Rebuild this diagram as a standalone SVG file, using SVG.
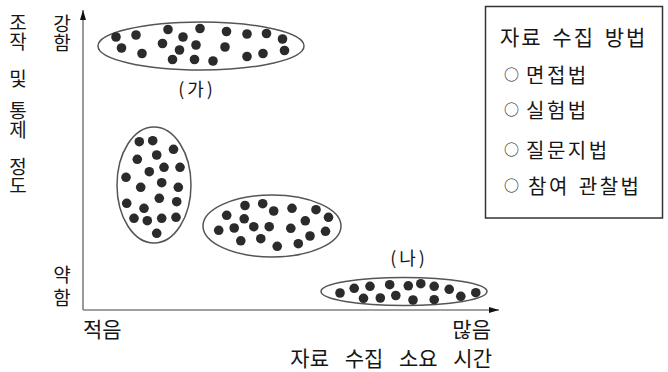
<svg xmlns="http://www.w3.org/2000/svg" width="668" height="372" viewBox="0 0 668 372">
<style>
text{font-family:"Noto Sans CJK KR","Noto Sans",sans-serif;fill:#161616;}
.ax{font-size:21px;}
.vt{font-size:19px;writing-mode:vertical-rl;}
.lg{font-size:20px;letter-spacing:2.5px;}
.lgt{font-size:21px;letter-spacing:2px;}
.lbl{font-size:18px;letter-spacing:3px;}
.axis{stroke:#808080;stroke-width:1.6;fill:none;}
.ell{fill:none;stroke:#555;stroke-width:1.5;}
.dot{fill:#2b2b2b;}
.box{fill:#fff;stroke:#333;stroke-width:1.5;}
.ci{font-size:15px;letter-spacing:0;}
</style>
<defs>
<marker id="arr" viewBox="0 0 10 6" markerWidth="10" markerHeight="6" markerUnits="userSpaceOnUse" refX="10" refY="3" orient="auto">
<path d="M0,0 L10,3 L0,6 z" fill="#111"/>
</marker>
<circle id="d" r="4.8" class="dot"/>
</defs>

<g id="connectors">
<line class="axis" x1="83" y1="310" x2="83" y2="10" marker-end="url(#arr)"/>
<line class="axis" x1="83" y1="310" x2="499" y2="310" marker-end="url(#arr)"/>
</g>

<g id="axis-labels">
<text class="vt" x="18" y="13.5">조작</text>
<text class="vt" x="18" y="69.5">및</text>
<text class="vt" x="18" y="101.5">통제</text>
<text class="vt" x="18" y="157.5">정도</text>
<text class="vt" x="62" y="14.5">강함</text>
<text class="vt" x="62" y="265.5">약</text>
<text class="vt" x="62" y="288">함</text>
<text class="ax" x="83" y="336.5">적음</text>
<text class="ax" x="491" y="336.5" text-anchor="end">많음</text>
<text class="ax" x="492" y="365.5" text-anchor="end" word-spacing="11">자료 수집 소요 시간</text>
</g>

<g id="cluster-ga">
<ellipse class="ell" cx="201" cy="46" rx="103" ry="24"/>
<use href="#d" x="116" y="37"/><use href="#d" x="136" y="35"/><use href="#d" x="168" y="29.5"/>
<use href="#d" x="183" y="37"/><use href="#d" x="200" y="28.5"/><use href="#d" x="226.5" y="31.5"/>
<use href="#d" x="247" y="34"/><use href="#d" x="266.5" y="33.5"/><use href="#d" x="282.5" y="39"/>
<use href="#d" x="121.5" y="48"/><use href="#d" x="142" y="53.5"/><use href="#d" x="162.5" y="43.5"/>
<use href="#d" x="179.5" y="50"/><use href="#d" x="196" y="45"/><use href="#d" x="225" y="47"/>
<use href="#d" x="284.5" y="50.5"/><use href="#d" x="263" y="53.5"/><use href="#d" x="247" y="56.5"/>
<use href="#d" x="172.5" y="59.5"/><use href="#d" x="194.5" y="59.5"/><use href="#d" x="213" y="61"/>
<text class="lbl" x="197" y="96" text-anchor="middle">(가)</text>
</g>

<g id="cluster-left">
<ellipse class="ell" cx="154" cy="185" rx="37" ry="58"/>
<use href="#d" x="139.3" y="141.7"/><use href="#d" x="152.7" y="140.7"/><use href="#d" x="173.5" y="149.3"/>
<use href="#d" x="137.3" y="159.3"/><use href="#d" x="156.7" y="155"/><use href="#d" x="149.3" y="171.7"/>
<use href="#d" x="164" y="167.3"/><use href="#d" x="180" y="167.3"/><use href="#d" x="126" y="177.3"/>
<use href="#d" x="161.7" y="182.7"/><use href="#d" x="140.7" y="187.3"/><use href="#d" x="178.3" y="187.3"/>
<use href="#d" x="159.3" y="198.3"/><use href="#d" x="176.7" y="201.7"/><use href="#d" x="126.7" y="203.3"/>
<use href="#d" x="144" y="208.3"/><use href="#d" x="134" y="218.3"/><use href="#d" x="147.3" y="220.7"/>
<use href="#d" x="161.7" y="218.3"/><use href="#d" x="176" y="217.3"/><use href="#d" x="156.7" y="233.3"/>
</g>

<g id="cluster-mid">
<ellipse class="ell" cx="272" cy="226" rx="69" ry="31"/>
<use href="#d" x="245" y="205.5"/><use href="#d" x="262.7" y="203.7"/><use href="#d" x="273.7" y="211"/>
<use href="#d" x="292" y="208.3"/><use href="#d" x="316" y="209.7"/><use href="#d" x="226.7" y="215.3"/>
<use href="#d" x="244.2" y="218.8"/><use href="#d" x="305.3" y="220.8"/><use href="#d" x="328.5" y="217.3"/>
<use href="#d" x="218.7" y="230.3"/><use href="#d" x="234.2" y="228"/><use href="#d" x="253.8" y="226.7"/>
<use href="#d" x="269.2" y="226.7"/><use href="#d" x="290.8" y="228.3"/><use href="#d" x="325.5" y="231.3"/>
<use href="#d" x="310" y="236"/><use href="#d" x="240.8" y="240.8"/><use href="#d" x="260.8" y="238.7"/>
<use href="#d" x="298.3" y="243.7"/><use href="#d" x="277.2" y="246.3"/>
</g>

<g id="cluster-na">
<ellipse class="ell" cx="404" cy="291.5" rx="83" ry="14"/>
<use href="#d" x="340" y="293"/><use href="#d" x="354.2" y="288.3"/><use href="#d" x="370" y="286.3"/>
<use href="#d" x="363.5" y="298.3"/><use href="#d" x="380.3" y="298"/><use href="#d" x="389.7" y="284.7"/>
<use href="#d" x="395.8" y="295.5"/><use href="#d" x="408.3" y="285.8"/><use href="#d" x="420.8" y="283.7"/>
<use href="#d" x="413" y="300"/><use href="#d" x="434.2" y="286.3"/><use href="#d" x="434.2" y="299.7"/>
<use href="#d" x="449.2" y="289.3"/><use href="#d" x="460.8" y="296.3"/><use href="#d" x="475.8" y="292.7"/>
<text class="lbl" x="409" y="265" text-anchor="middle">(나)</text>
</g>

<g id="legend">
<rect class="box" x="485.5" y="6.5" width="177" height="211.5"/>
<text class="lgt" x="500" y="44.5" word-spacing="3">자료 수집 방법</text>
<text class="lg" x="504" y="83"><tspan class="ci" dy="-3">○</tspan><tspan dy="3"> 면접법</tspan></text>
<text class="lg" x="504" y="117.5"><tspan class="ci" dy="-3">○</tspan><tspan dy="3"> 실험법</tspan></text>
<text class="lg" x="504" y="157.5"><tspan class="ci" dy="-3">○</tspan><tspan dy="3"> 질문지법</tspan></text>
<text class="lg" x="504" y="194"><tspan class="ci" dy="-3">○</tspan><tspan dy="3" word-spacing="2"> 참여 관찰법</tspan></text>
</g>
</svg>
